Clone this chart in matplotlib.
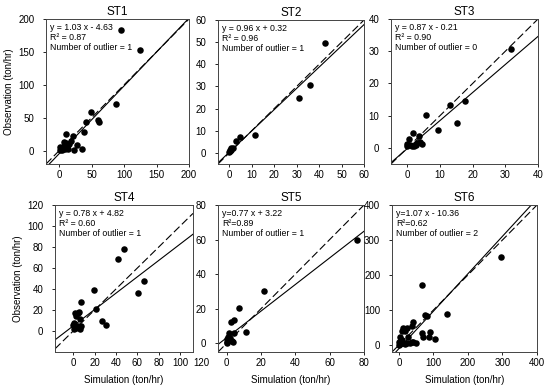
import numpy as np
import matplotlib
matplotlib.use('Agg')
import matplotlib.pyplot as plt

plt.rcParams['font.family'] = ['Liberation Sans', 'DejaVu Sans']

# station names and regression text
names = ['ST1', 'ST2', 'ST3', 'ST4', 'ST5', 'ST6']
slopes = [1.03, 0.96, 0.87, 0.78, 0.77, 1.07]
intercepts = [-4.63, 0.32, -0.21, 4.82, 3.22, -10.36]
labels = [
    'y = 1.03 x - 4.63\nR\u00b2 = 0.87\nNumber of outlier = 1',
    'y = 0.96 x + 0.32\nR\u00b2 = 0.96\nNumber of outlier = 1',
    'y = 0.87 x - 0.21\nR\u00b2 = 0.90\nNumber of outlier = 0',
    'y = 0.78 x + 4.82\nR\u00b2 = 0.60\nNumber of outlier = 1',
    'y=0.77 x + 3.22\nR\u00b2=0.89\nNumber of outlier = 1',
    'y=1.07 x - 10.36\nR\u00b2=0.62\nNumber of outlier = 2',
]

# simulated (x) and observed (y) values per station
st1_x = [96, 124, 87, 49, 60, 61, 42, 38, 22, 23, 35, 27, 18, 11, 5, 7, 9, 12, 3, 2, 4, 8, 10, 14, 6, 1, 13, 16]
st1_y = [183, 153, 71, 59, 46, 43, 43, 28, 23, 1, 2, 9, 15, 25, 5, 13, 3, 10, 2, 6, 1, 8, 12, 2, 4, 1, 6, 10]
st2_x = [42.8, 35.8, 31, 11.6, 4.9, 3.1, 1.5, 0.8, 0.2, 0.1, 0.4, 1.0]
st2_y = [49.8, 30.7, 25, 8.3, 7.4, 5.5, 2.0, 2.1, 1.2, 0.3, 0.8, 1.5]
st3_x = [31.8, 17.5, 13.1, 15.3, 5.6, 9.4, 1.8, 3.5, 0.5, 3.8, 4.4, 2.6, 2.1, 0.0, 0.0, 0.7, 1.3, 3.1]
st3_y = [30.8, 14.6, 13.3, 7.7, 10.2, 5.4, 4.6, 3.6, 2.8, 1.8, 1.1, 0.9, 0.5, 1.3, 0.5, 0.8, 0.5, 1.5]
st4_x = [47.3, 41.5, 66.5, 61, 19.2, 7, 21.3, 26.5, 30.5, 6, 1.5, 4.6, 5.5, 3, 0.6, 1.8, 0.6, 3, 6, 7.6, 0, 4.9]
st4_y = [78, 68.8, 47.7, 36, 38.8, 27.5, 20.5, 10, 5.7, 11, 17.4, 16.7, 18, 14, 8, 4.7, 2.2, 2.5, 1.6, 4.4, 5.4, 4.7]
st5_x = [76, 21.8, 7.4, 4.5, 2.5, 11.3, 4.5, 1.4, 0.6, 0, 0, 1, 2.9, 3.9, 2, 0.4]
st5_y = [59.6, 30, 20.4, 13.6, 12.2, 6.4, 5.8, 5.8, 3.9, 2.7, 1, 1.7, 1.4, 1.0, 3.3, 0.4]
st6_x = [296, 67, 77, 80, 140, 41.5, 38.6, 90, 87, 104, 66, 70.5, 10.6, 22, 17, 8, 27, 3, 8, 0, 3, 12.5, 22, 37, 41.5, 49, 32, 0, 17, 5]
st6_y = [251, 171, 86, 84, 90, 66, 53, 37, 24, 16, 33, 23, 50, 50, 40, 40, 24, 24, 14, 10, 4, 5, 7, 10, 9, 7, 5, 0, 2, 13]

xs = [st1_x, st2_x, st3_x, st4_x, st5_x, st6_x]
ys = [st1_y, st2_y, st3_y, st4_y, st5_y, st6_y]

xlims = [(-20, 200), (-5, 60), (-5, 40), (-17, 112), (-5, 80), (-20, 400)]
ylims = [(-20, 200), (-5, 60), (-5, 40), (-20, 120), (-5, 80), (-20, 400)]
xticks = [range(0, 201, 50), range(0, 61, 10), range(0, 41, 10), range(0, 101, 20), range(0, 81, 20), range(0, 401, 100)]
yticks = [range(0, 201, 50), range(0, 61, 10), range(0, 41, 10), range(0, 121, 20), range(0, 81, 20), range(0, 401, 100)]

# axes boxes in pixels: left, top, right, bottom
boxes = [(46, 19, 189, 164), (218, 20, 364, 164), (391, 19, 538, 164),
         (55, 205, 193, 352), (218, 205, 364, 352), (392, 205, 537, 352)]

W, H = 550, 389
fig = plt.figure(figsize=(W / 100, H / 100), dpi=100)

for i in range(6):
    l, t, r, b = boxes[i]
    ax = fig.add_axes([l / W, 1 - b / H, (r - l) / W, (b - t) / H])
    ax.scatter(xs[i], ys[i], s=22, color='black', zorder=3, linewidths=0)
    lx = np.array(xlims[i])
    ax.plot(lx, lx, color='black', lw=0.8, dashes=(7, 3))
    ax.plot(lx, slopes[i] * lx + intercepts[i], color='black', lw=0.8)
    ax.set_xticks(list(xticks[i]))
    ax.set_yticks(list(yticks[i]))
    ax.set_xlim(xlims[i])
    ax.set_ylim(ylims[i])
    ax.tick_params(labelsize=7, length=2.5, width=0.6)
    ax.tick_params(axis='x', pad=2)
    ax.tick_params(axis='y', pad=6)
    for s in ax.spines.values():
        s.set_linewidth(0.7)
        s.set_color('#444444')
    ax.set_title(names[i], fontsize=8.5, pad=3)
    ax.text(0.03, 0.975, labels[i], transform=ax.transAxes, fontsize=6.3,
            va='top', ha='left', linespacing=1.15)
    if i in (0, 3):
        ax.set_ylabel('Observation (ton/hr)', fontsize=7, labelpad=3)
    if i >= 3:
        ax.set_xlabel('Simulation (ton/hr)', fontsize=7, labelpad=5)
    if i == 3:
        # the 120 label sits past the right end of the ST4 axis
        ax.annotate('120', xy=(120, 0), xycoords=('data', 'axes fraction'),
                    xytext=(0, -4.5), textcoords='offset points',
                    ha='center', va='top', fontsize=7, annotation_clip=False)

fig.savefig('out.png', dpi=100)
